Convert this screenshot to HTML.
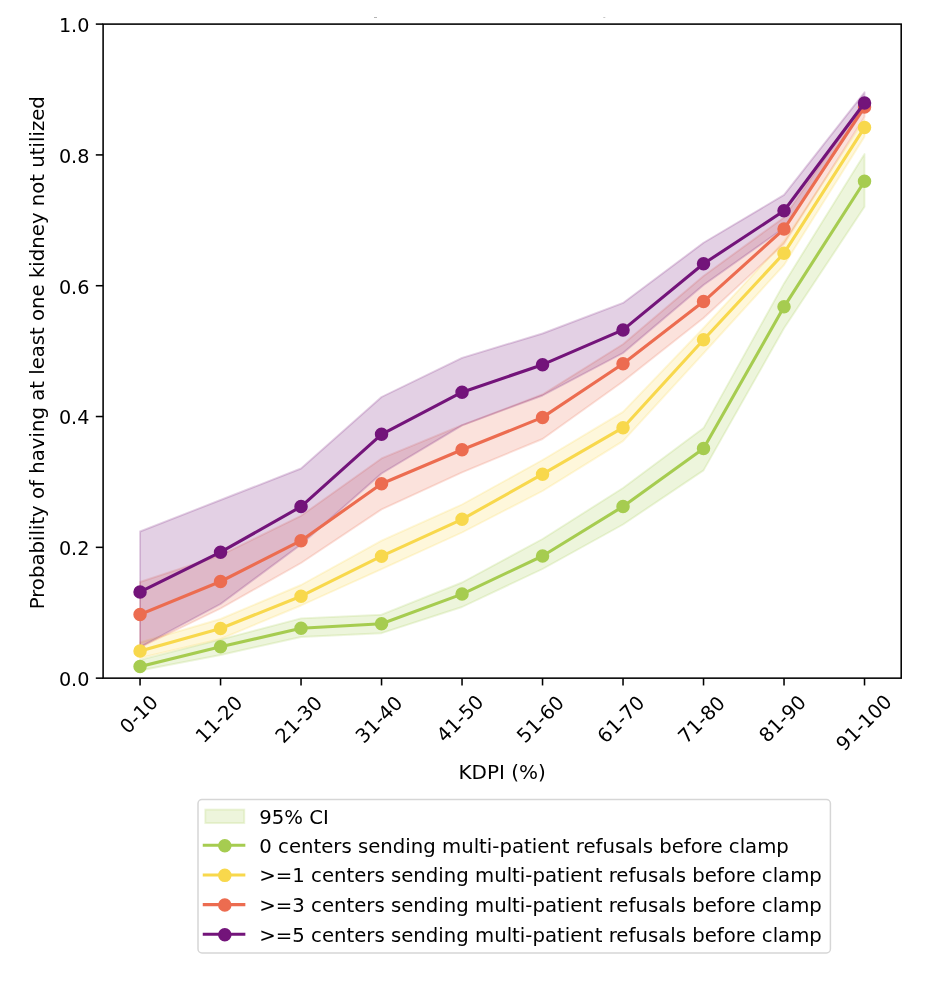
<!DOCTYPE html>
<html><head><meta charset="utf-8"><title>Chart</title>
<style>
html,body{margin:0;padding:0;background:#fff;width:938px;height:984px;overflow:hidden;}
svg{display:block;}
text{font-family:"DejaVu Sans","Liberation Sans",sans-serif;fill:#000;}
#wrap{will-change:transform;width:938px;height:984px;}
</style></head>
<body><div id="wrap"><svg width="938" height="984" viewBox="0 0 938 984">
<rect x="0" y="0" width="938" height="984" fill="#ffffff"/>
<defs><clipPath id="ax"><rect x="103.1" y="24.1" width="798.1" height="654.05"/></clipPath></defs>
<g clip-path="url(#ax)">
<polygon points="140.05,659.9 220.55,639.6 301.04,618.4 381.54,614.7 462.04,582.5 542.54,539 623.03,488 703.53,428.1 784.03,283.4 864.52,154 864.52,206.8 784.03,328.3 703.53,470.4 623.03,524.5 542.54,569 462.04,607 381.54,633.2 301.04,637 220.55,655 140.05,670.5" fill="#a6cc50" fill-opacity="0.2" stroke="#a6cc50" stroke-opacity="0.2" stroke-width="1.9" stroke-linejoin="round"/>
<polygon points="140.05,642.5 220.55,619 301.04,585 381.54,540.7 462.04,504.5 542.54,460 623.03,411.9 703.53,328 784.03,241.2 864.52,119.6 864.52,136.8 784.03,265 703.53,353.3 623.03,441.1 542.54,491 462.04,532.5 381.54,569.2 301.04,605.5 220.55,639 140.05,658" fill="#f8d84c" fill-opacity="0.2" stroke="#f8d84c" stroke-opacity="0.2" stroke-width="1.9" stroke-linejoin="round"/>
<polygon points="140.05,582 220.55,555.3 301.04,515.8 381.54,458.4 462.04,425.2 542.54,394.5 623.03,344.3 703.53,276 784.03,217.4 864.52,101 864.52,117 784.03,243.8 703.53,318 623.03,381.5 542.54,439 462.04,472.4 381.54,509.4 301.04,563 220.55,608.5 140.05,647.5" fill="#ec6c50" fill-opacity="0.2" stroke="#ec6c50" stroke-opacity="0.2" stroke-width="1.9" stroke-linejoin="round"/>
<polygon points="140.05,531.5 220.55,500 301.04,468.5 381.54,397 462.04,357.9 542.54,333.5 623.03,302.9 703.53,242.8 784.03,194.9 864.52,92.3 864.52,109 784.03,228 703.53,285 623.03,353 542.54,395.5 462.04,425.4 381.54,473.5 301.04,544.5 220.55,604 140.05,647" fill="#73147a" fill-opacity="0.2" stroke="#73147a" stroke-opacity="0.2" stroke-width="1.9" stroke-linejoin="round"/>
</g>
<polyline points="140.05,666.6 220.55,646.8 301.04,628.2 381.54,623.7 462.04,594.1 542.54,556 623.03,506.5 703.53,448.5 784.03,306.8 864.52,181.3" fill="none" stroke="#a6cc50" stroke-width="3.1" stroke-linejoin="round" stroke-linecap="square"/>
<circle cx="140.05" cy="666.6" r="5.8" fill="#a6cc50" stroke="#a6cc50" stroke-width="1.9"/>
<circle cx="220.55" cy="646.8" r="5.8" fill="#a6cc50" stroke="#a6cc50" stroke-width="1.9"/>
<circle cx="301.04" cy="628.2" r="5.8" fill="#a6cc50" stroke="#a6cc50" stroke-width="1.9"/>
<circle cx="381.54" cy="623.7" r="5.8" fill="#a6cc50" stroke="#a6cc50" stroke-width="1.9"/>
<circle cx="462.04" cy="594.1" r="5.8" fill="#a6cc50" stroke="#a6cc50" stroke-width="1.9"/>
<circle cx="542.54" cy="556" r="5.8" fill="#a6cc50" stroke="#a6cc50" stroke-width="1.9"/>
<circle cx="623.03" cy="506.5" r="5.8" fill="#a6cc50" stroke="#a6cc50" stroke-width="1.9"/>
<circle cx="703.53" cy="448.5" r="5.8" fill="#a6cc50" stroke="#a6cc50" stroke-width="1.9"/>
<circle cx="784.03" cy="306.8" r="5.8" fill="#a6cc50" stroke="#a6cc50" stroke-width="1.9"/>
<circle cx="864.52" cy="181.3" r="5.8" fill="#a6cc50" stroke="#a6cc50" stroke-width="1.9"/>
<polyline points="140.05,651 220.55,628.5 301.04,596.2 381.54,556.2 462.04,519.3 542.54,474.2 623.03,427.7 703.53,339.8 784.03,253.2 864.52,127.4" fill="none" stroke="#f8d84c" stroke-width="3.1" stroke-linejoin="round" stroke-linecap="square"/>
<circle cx="140.05" cy="651" r="5.8" fill="#f8d84c" stroke="#f8d84c" stroke-width="1.9"/>
<circle cx="220.55" cy="628.5" r="5.8" fill="#f8d84c" stroke="#f8d84c" stroke-width="1.9"/>
<circle cx="301.04" cy="596.2" r="5.8" fill="#f8d84c" stroke="#f8d84c" stroke-width="1.9"/>
<circle cx="381.54" cy="556.2" r="5.8" fill="#f8d84c" stroke="#f8d84c" stroke-width="1.9"/>
<circle cx="462.04" cy="519.3" r="5.8" fill="#f8d84c" stroke="#f8d84c" stroke-width="1.9"/>
<circle cx="542.54" cy="474.2" r="5.8" fill="#f8d84c" stroke="#f8d84c" stroke-width="1.9"/>
<circle cx="623.03" cy="427.7" r="5.8" fill="#f8d84c" stroke="#f8d84c" stroke-width="1.9"/>
<circle cx="703.53" cy="339.8" r="5.8" fill="#f8d84c" stroke="#f8d84c" stroke-width="1.9"/>
<circle cx="784.03" cy="253.2" r="5.8" fill="#f8d84c" stroke="#f8d84c" stroke-width="1.9"/>
<circle cx="864.52" cy="127.4" r="5.8" fill="#f8d84c" stroke="#f8d84c" stroke-width="1.9"/>
<polyline points="140.05,614.4 220.55,581.5 301.04,540.7 381.54,483.7 462.04,449.8 542.54,417.4 623.03,363.7 703.53,301.6 784.03,229.1 864.52,107" fill="none" stroke="#ec6c50" stroke-width="3.1" stroke-linejoin="round" stroke-linecap="square"/>
<circle cx="140.05" cy="614.4" r="5.8" fill="#ec6c50" stroke="#ec6c50" stroke-width="1.9"/>
<circle cx="220.55" cy="581.5" r="5.8" fill="#ec6c50" stroke="#ec6c50" stroke-width="1.9"/>
<circle cx="301.04" cy="540.7" r="5.8" fill="#ec6c50" stroke="#ec6c50" stroke-width="1.9"/>
<circle cx="381.54" cy="483.7" r="5.8" fill="#ec6c50" stroke="#ec6c50" stroke-width="1.9"/>
<circle cx="462.04" cy="449.8" r="5.8" fill="#ec6c50" stroke="#ec6c50" stroke-width="1.9"/>
<circle cx="542.54" cy="417.4" r="5.8" fill="#ec6c50" stroke="#ec6c50" stroke-width="1.9"/>
<circle cx="623.03" cy="363.7" r="5.8" fill="#ec6c50" stroke="#ec6c50" stroke-width="1.9"/>
<circle cx="703.53" cy="301.6" r="5.8" fill="#ec6c50" stroke="#ec6c50" stroke-width="1.9"/>
<circle cx="784.03" cy="229.1" r="5.8" fill="#ec6c50" stroke="#ec6c50" stroke-width="1.9"/>
<circle cx="864.52" cy="107" r="5.8" fill="#ec6c50" stroke="#ec6c50" stroke-width="1.9"/>
<polyline points="140.05,591.9 220.55,552.2 301.04,506.6 381.54,434.3 462.04,392.2 542.54,364.7 623.03,329.9 703.53,263.8 784.03,210.8 864.52,103" fill="none" stroke="#73147a" stroke-width="3.1" stroke-linejoin="round" stroke-linecap="square"/>
<circle cx="140.05" cy="591.9" r="5.8" fill="#73147a" stroke="#73147a" stroke-width="1.9"/>
<circle cx="220.55" cy="552.2" r="5.8" fill="#73147a" stroke="#73147a" stroke-width="1.9"/>
<circle cx="301.04" cy="506.6" r="5.8" fill="#73147a" stroke="#73147a" stroke-width="1.9"/>
<circle cx="381.54" cy="434.3" r="5.8" fill="#73147a" stroke="#73147a" stroke-width="1.9"/>
<circle cx="462.04" cy="392.2" r="5.8" fill="#73147a" stroke="#73147a" stroke-width="1.9"/>
<circle cx="542.54" cy="364.7" r="5.8" fill="#73147a" stroke="#73147a" stroke-width="1.9"/>
<circle cx="623.03" cy="329.9" r="5.8" fill="#73147a" stroke="#73147a" stroke-width="1.9"/>
<circle cx="703.53" cy="263.8" r="5.8" fill="#73147a" stroke="#73147a" stroke-width="1.9"/>
<circle cx="784.03" cy="210.8" r="5.8" fill="#73147a" stroke="#73147a" stroke-width="1.9"/>
<circle cx="864.52" cy="103" r="5.8" fill="#73147a" stroke="#73147a" stroke-width="1.9"/>
<rect x="103.1" y="24.1" width="798.1" height="654.05" fill="none" stroke="#000" stroke-width="1.55" stroke-linejoin="miter"/>
<line x1="95.8" y1="678.15" x2="103.1" y2="678.15" stroke="#000" stroke-width="1.55"/>
<text x="89.4" y="685.95" text-anchor="end" font-size="19.2">0.0</text>
<line x1="95.8" y1="547.34" x2="103.1" y2="547.34" stroke="#000" stroke-width="1.55"/>
<text x="89.4" y="555.14" text-anchor="end" font-size="19.2">0.2</text>
<line x1="95.8" y1="416.53" x2="103.1" y2="416.53" stroke="#000" stroke-width="1.55"/>
<text x="89.4" y="424.33" text-anchor="end" font-size="19.2">0.4</text>
<line x1="95.8" y1="285.72" x2="103.1" y2="285.72" stroke="#000" stroke-width="1.55"/>
<text x="89.4" y="293.52" text-anchor="end" font-size="19.2">0.6</text>
<line x1="95.8" y1="154.91" x2="103.1" y2="154.91" stroke="#000" stroke-width="1.55"/>
<text x="89.4" y="162.71" text-anchor="end" font-size="19.2">0.8</text>
<line x1="95.8" y1="24.1" x2="103.1" y2="24.1" stroke="#000" stroke-width="1.55"/>
<text x="89.4" y="31.9" text-anchor="end" font-size="19.2">1.0</text>
<line x1="140.05" y1="678.15" x2="140.05" y2="685.45" stroke="#000" stroke-width="1.55"/>
<text text-anchor="middle" font-size="19.5" transform="translate(139.85,715.32) rotate(-45) translate(0,5.38)">0-10</text>
<line x1="220.55" y1="678.15" x2="220.55" y2="685.45" stroke="#000" stroke-width="1.55"/>
<text text-anchor="middle" font-size="19.5" transform="translate(219.95,720.2) rotate(-45) translate(0,5.38)">11-20</text>
<line x1="301.04" y1="678.15" x2="301.04" y2="685.45" stroke="#000" stroke-width="1.55"/>
<text text-anchor="middle" font-size="19.5" transform="translate(299.64,720.4) rotate(-45) translate(0,5.38)">21-30</text>
<line x1="381.54" y1="678.15" x2="381.54" y2="685.45" stroke="#000" stroke-width="1.55"/>
<text text-anchor="middle" font-size="19.5" transform="translate(379.94,720.4) rotate(-45) translate(0,5.38)">31-40</text>
<line x1="462.04" y1="678.15" x2="462.04" y2="685.45" stroke="#000" stroke-width="1.55"/>
<text text-anchor="middle" font-size="19.5" transform="translate(460.94,719.5) rotate(-45) translate(0,5.38)">41-50</text>
<line x1="542.54" y1="678.15" x2="542.54" y2="685.45" stroke="#000" stroke-width="1.55"/>
<text text-anchor="middle" font-size="19.5" transform="translate(541.34,720.1) rotate(-45) translate(0,5.38)">51-60</text>
<line x1="623.03" y1="678.15" x2="623.03" y2="685.45" stroke="#000" stroke-width="1.55"/>
<text text-anchor="middle" font-size="19.5" transform="translate(621.83,720.3) rotate(-45) translate(0,5.38)">61-70</text>
<line x1="703.53" y1="678.15" x2="703.53" y2="685.45" stroke="#000" stroke-width="1.55"/>
<text text-anchor="middle" font-size="19.5" transform="translate(702.43,720.6) rotate(-45) translate(0,5.38)">71-80</text>
<line x1="784.03" y1="678.15" x2="784.03" y2="685.45" stroke="#000" stroke-width="1.55"/>
<text text-anchor="middle" font-size="19.5" transform="translate(783.53,719.6) rotate(-45) translate(0,5.38)">81-90</text>
<line x1="864.52" y1="678.15" x2="864.52" y2="685.45" stroke="#000" stroke-width="1.55"/>
<text text-anchor="middle" font-size="19.5" transform="translate(864.92,723.69) rotate(-45) translate(0,5.38)">91-100</text>
<text x="502.15" y="779.2" text-anchor="middle" font-size="20">KDPI (%)</text>
<text text-anchor="middle" font-size="19.7" transform="translate(44.2,352.73) rotate(-90)">Probability of having at least one kidney not utilized</text>
<rect x="374" y="17" width="3" height="1" fill="#b4b4b4"/>
<rect x="603.3" y="17" width="2" height="1" fill="#c8c8c8"/>
<rect x="198" y="799.5" width="632.4" height="153.5" rx="4" ry="4" fill="#ffffff" fill-opacity="0.8" stroke="#d6d6d6" stroke-width="1.5"/>
<rect x="205.3" y="809.6" width="39" height="13.5" fill="#a6cc50" fill-opacity="0.2" stroke="#a6cc50" stroke-opacity="0.2" stroke-width="1.9"/>
<text x="259.3" y="823.5" font-size="19.7">95% CI</text>
<line x1="204.3" y1="845.3" x2="243.8" y2="845.3" stroke="#a6cc50" stroke-width="3.1" stroke-linecap="square"/>
<circle cx="224.8" cy="845.7" r="5.8" fill="#a6cc50" stroke="#a6cc50" stroke-width="1.9"/>
<text x="259.3" y="852.6" font-size="19.7">0 centers sending multi-patient refusals before clamp</text>
<line x1="204.3" y1="874.97" x2="243.8" y2="874.97" stroke="#f8d84c" stroke-width="3.1" stroke-linecap="square"/>
<circle cx="224.8" cy="875.37" r="5.8" fill="#f8d84c" stroke="#f8d84c" stroke-width="1.9"/>
<text x="259.3" y="882.27" font-size="19.7">&gt;=1 centers sending multi-patient refusals before clamp</text>
<line x1="204.3" y1="904.64" x2="243.8" y2="904.64" stroke="#ec6c50" stroke-width="3.1" stroke-linecap="square"/>
<circle cx="224.8" cy="905.04" r="5.8" fill="#ec6c50" stroke="#ec6c50" stroke-width="1.9"/>
<text x="259.3" y="911.94" font-size="19.7">&gt;=3 centers sending multi-patient refusals before clamp</text>
<line x1="204.3" y1="934.31" x2="243.8" y2="934.31" stroke="#73147a" stroke-width="3.1" stroke-linecap="square"/>
<circle cx="224.8" cy="934.71" r="5.8" fill="#73147a" stroke="#73147a" stroke-width="1.9"/>
<text x="259.3" y="941.61" font-size="19.7">&gt;=5 centers sending multi-patient refusals before clamp</text>
</svg></div></body></html>
